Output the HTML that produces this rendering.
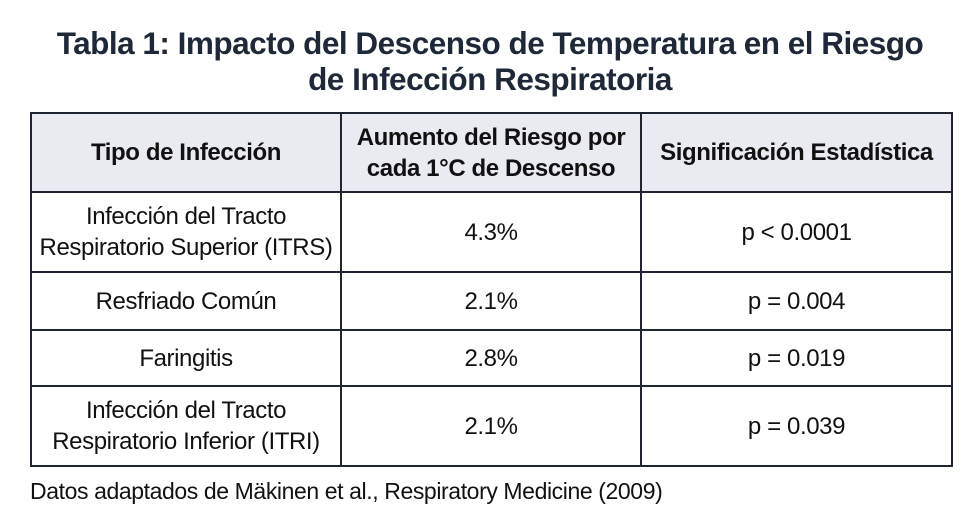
<!DOCTYPE html>
<html><head><meta charset="utf-8"><style>
body{margin:0;width:980px;height:523px;background:#fff;font-family:"Liberation Sans",sans-serif;color:#111;overflow:hidden;position:relative}
h1{position:absolute;top:25px;left:0;width:980px;margin:0;text-align:center;font-size:31.5px;line-height:36px;font-weight:bold;color:#1e2838;letter-spacing:-0.5px}
table{position:absolute;left:30px;top:112px;width:921px;border-collapse:collapse;table-layout:fixed}
td,th{border:2px solid #1e2430;text-align:center;font-size:24px;line-height:31px;padding:0;letter-spacing:-0.4px}
th{background:#e9ebf1;font-weight:bold;height:77px;font-size:24px}
.foot{position:absolute;left:30px;top:478px;font-size:23px;letter-spacing:-0.4px}
</style></head><body>
<h1>Tabla 1: Impacto del Descenso de Temperatura en el Riesgo<br>de Infección Respiratoria</h1>
<table>
<colgroup><col style="width:310px"><col style="width:300px"><col style="width:311px"></colgroup>
<tr><th>Tipo de Infección</th><th>Aumento del Riesgo por<br>cada 1°C de Descenso</th><th>Significación Estadística</th></tr>
<tr style="height:80px"><td>Infección del Tracto<br>Respiratorio Superior (ITRS)</td><td>4.3%</td><td>p &lt; 0.0001</td></tr>
<tr style="height:58px"><td>Resfriado Común</td><td>2.1%</td><td>p = 0.004</td></tr>
<tr style="height:56px"><td>Faringitis</td><td>2.8%</td><td>p = 0.019</td></tr>
<tr style="height:80px"><td>Infección del Tracto<br>Respiratorio Inferior (ITRI)</td><td>2.1%</td><td>p = 0.039</td></tr>
</table>
<div class="foot">Datos adaptados de Mäkinen et al., Respiratory Medicine (2009)</div>
</body></html>
